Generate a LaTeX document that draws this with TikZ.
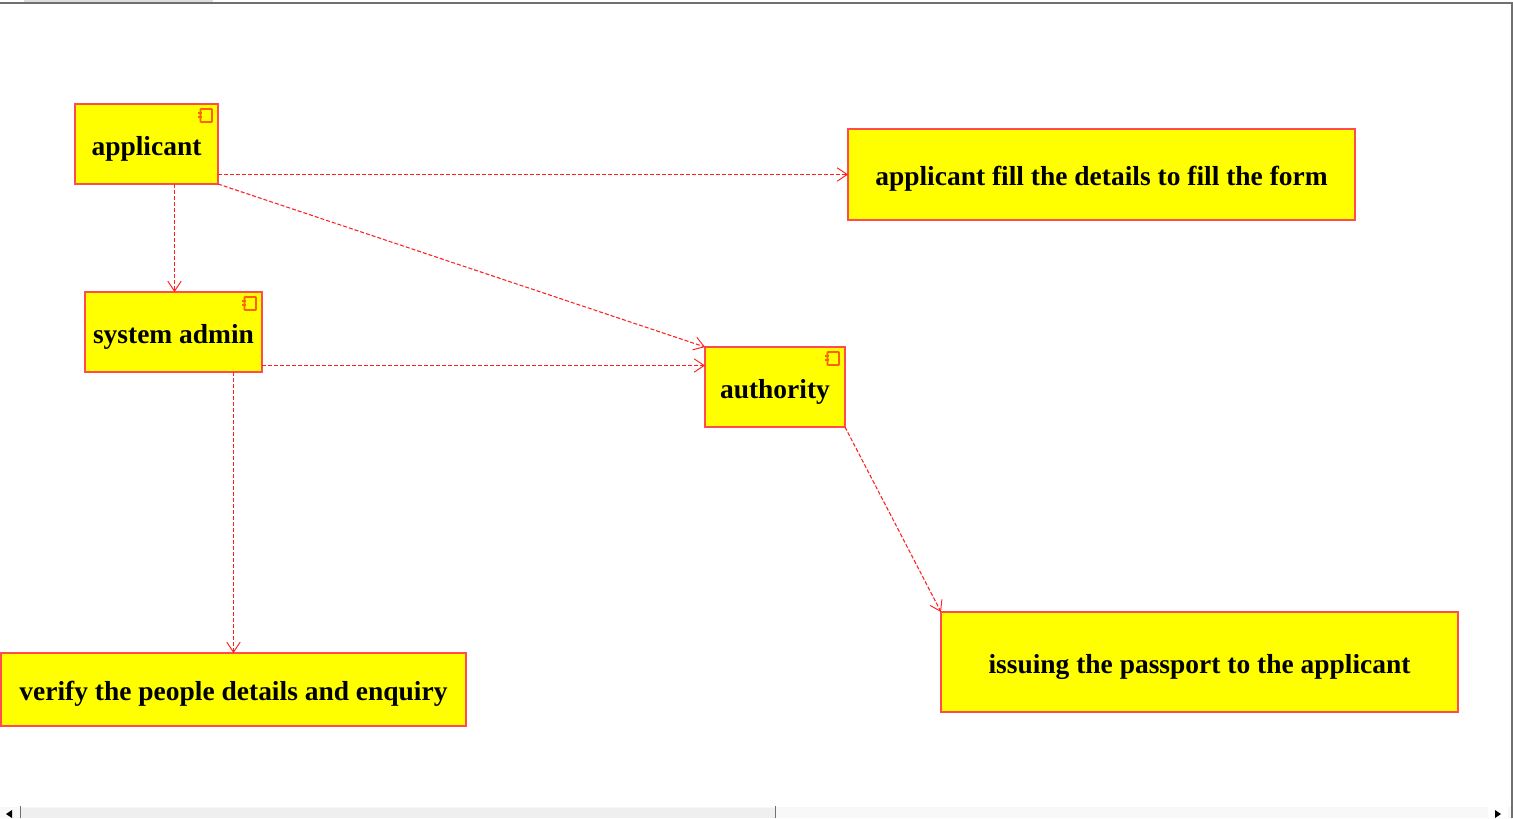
\documentclass[tikz,border=0pt]{standalone}
\usepackage{fontspec}
\setmainfont{Liberation Serif}
\usetikzlibrary{arrows.meta,calc}
\definecolor{edge}{HTML}{FF2020}
\definecolor{boxedge}{HTML}{FF4C4C}
\definecolor{iconedge}{HTML}{FF6000}
\definecolor{chrome}{HTML}{707070}
\definecolor{thumb}{HTML}{EFEFEF}
\definecolor{track}{HTML}{F8F8F8}
\definecolor{strip}{HTML}{DDDDDD}
\definecolor{boxfill}{HTML}{FFFF00}
\tikzset{
  x=0.75pt,y=-0.75pt,
  boxnode/.style 2 args={draw=boxedge,fill=boxfill,line width=1pt,inner sep=0pt,outer sep=0pt,
    text height=16.5pt,text depth=0pt,
    minimum width=#1*0.75pt,minimum height=#2*0.75pt,font=\fontsize{20.6pt}{22pt}\selectfont\bfseries,text=black},
  flow/.style={draw=edge,line width=0.8pt,dash pattern=on 3pt off 1.5pt,
    -{Straight Barb[length=7.5pt,width=10pt,line width=0.7pt]}},
  icon/.style={draw=iconedge,line width=1.3pt,rounded corners=0.5pt},
  knob/.style={fill=iconedge},
}
\newcommand{\compicon}[1]{%
  \draw[icon] ($(#1.north east)+(-17.5,5)$) rectangle ($(#1.north east)+(-6,18)$);
  \fill[knob] ($(#1.north east)+(-20,7.5)$) rectangle ($(#1.north east)+(-16.5,10)$);
  \fill[knob] ($(#1.north east)+(-20,11.5)$) rectangle ($(#1.north east)+(-16.5,14)$);
}
\begin{document}
\begin{tikzpicture}
\useasboundingbox (0,0) rectangle (1513,818);
\fill[white] (0,0) rectangle (1513,818);
% window chrome
\fill[strip] (24,0) rectangle (213,2);
\fill[chrome] (0,2) rectangle (1513,4);
\fill[chrome] (1511,2) rectangle (1513,818);
\fill[track] (0,807) rectangle (1511,818);
\fill[thumb] (21,808) rectangle (775,818);
\fill[chrome] (775,806) rectangle (776,818);
\fill[chrome] (20,806) rectangle (21,818);
\fill[white] (1488,806) rectangle (1508,818);
\fill[black] (6,814) -- (12,810) -- (12,818) -- cycle;
\fill[black] (1501,814) -- (1495,810) -- (1495,818) -- cycle;
% boxes
\node[boxnode={143}{80}] (applicant) at (146.5,144) {applicant};
\node[boxnode={177}{80}] (sysadmin) at (173.5,332) {system admin};
\node[boxnode={140}{80}] (authority) at (775,387) {authority};
\node[boxnode={507}{91}] (fillform) at (1101.5,174.5) {applicant fill the details to fill the form};
\node[boxnode={465}{73}] (verify) at (233.5,689.5) {verify the people details and enquiry};
\node[boxnode={517}{100}] (issue) at (1199.5,662) {issuing the passport to the applicant};
\compicon{applicant}
\compicon{sysadmin}
\compicon{authority}
% connectors
\draw[flow] ($(applicant.south west)+(99.5,0)$) -- ($(sysadmin.north west)+(89.5,0)$);
\draw[flow] ($(applicant.south east)+(0,-9.5)$) -- (fillform.west);
\draw[flow] (applicant.south east) -- (authority.north west);
\draw[flow] ($(sysadmin.south east)+(0,-6.5)$) -- ($(authority.north west)+(0,18.5)$);
\draw[flow] ($(sysadmin.south west)+(148.5,0)$) -- ($(verify.north west)+(232.5,0)$);
\draw[flow] (authority.south east) -- (issue.north west);
\end{tikzpicture}
\end{document}
